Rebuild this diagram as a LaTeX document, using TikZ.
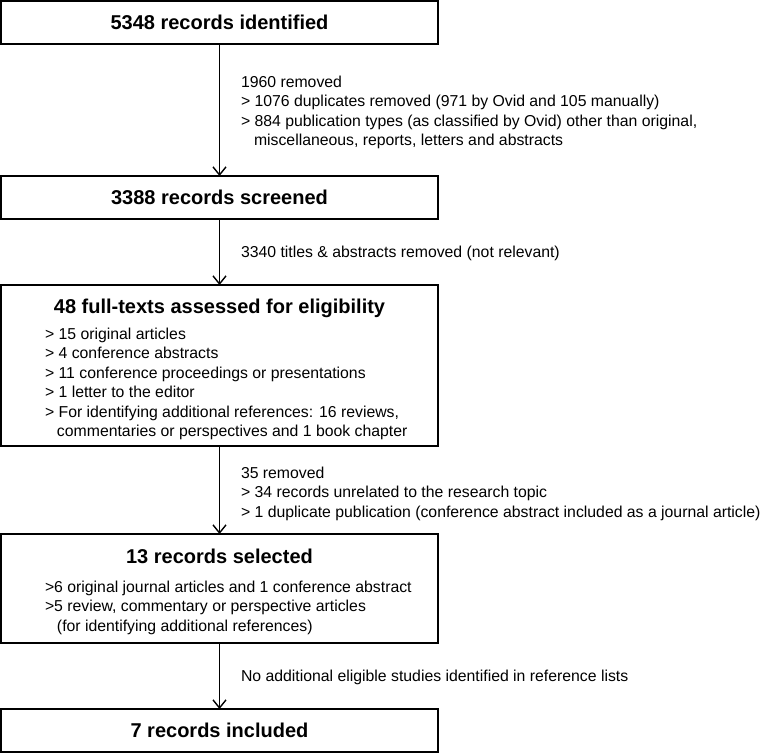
\documentclass[tikz,border=0pt]{standalone}
\usepackage{fontspec}
\setmainfont{Liberation Sans}
\usetikzlibrary{arrows.meta}
\begin{document}
\begin{tikzpicture}[x=1pt,y=-1pt,
  box/.style={draw, line width=1.4pt, minimum width=437pt, inner sep=0pt, outer sep=0pt, anchor=north west},
  title/.style={font=\fontsize{20}{24}\selectfont\bfseries, text height=14.3pt, text depth=0pt},
  body/.style={font=\fontsize{15.8}{19.5}\selectfont, align=left, anchor=north west, inner sep=0pt, outer sep=0pt},
  flow/.style={line width=1.4pt, -{Straight Barb[length=8pt,width=13pt,line width=1.4pt]}}]
\useasboundingbox (0,0) rectangle (763,753);
% boxes
\node[box, minimum height=43pt, title] (b1) at (1,1) {5348 records identified};
\node[box, minimum height=43pt, title] (b2) at (1,176) {3388 records screened};
\node[box, minimum height=161pt] (b3) at (1,285) {};
\node[box, minimum height=109pt] (b4) at (1,534) {};
\node[box, minimum height=43pt, title] (b5) at (1,709) {7 records included};
% titles inside tall boxes
\node[title, inner sep=0pt] (t3) at (219.5,306) {48 full-texts assessed for eligibility};
\node[title, inner sep=0pt] (t4) at (219.5,556) {13 records selected};
% lists inside boxes
\node[body] (l3) at (45,327.5) {\rule{0pt}{11.7pt}> 15 original articles\\
> 4 conference abstracts\\
> 11 conference proceedings or presentations\\
> 1 letter to the editor\\
> For identifying additional references: 16 reviews,\\
\hspace*{12pt}commentaries or perspectives and 1 book chapter};
\node[body] (l4) at (45,580.5) {\rule{0pt}{11.7pt}>6 original journal articles and 1 conference abstract\\
>5 review, commentary or perspective articles\\
\hspace*{12pt}(for identifying additional references)};
% side notes
\node[body] (n1) at (241,75.6) {\rule{0pt}{11.7pt}1960 removed\\
> 1076 duplicates removed (971 by Ovid and 105 manually)\\
> 884 publication types (as classified by Ovid) other than original,\\
\hspace*{13pt}miscellaneous, reports, letters and abstracts};
\node[body] (n2) at (241,245.6) {\rule{0pt}{11.7pt}3340 titles \& abstracts removed (not relevant)};
\node[body] (n3) at (241,466.5) {\rule{0pt}{11.7pt}35 removed\\
> 34 records unrelated to the research topic\\
> 1 duplicate publication (conference abstract included as a journal article)};
\node[body] (n4) at (241,669.5) {\rule{0pt}{11.7pt}No additional eligible studies identified in reference lists};
% connectors
\draw[flow] (b1.south) -- (b2.north);
\draw[flow] (b2.south) -- (b3.north);
\draw[flow] (b3.south) -- (b4.north);
\draw[flow] (b4.south) -- (b5.north);
\end{tikzpicture}
\end{document}
